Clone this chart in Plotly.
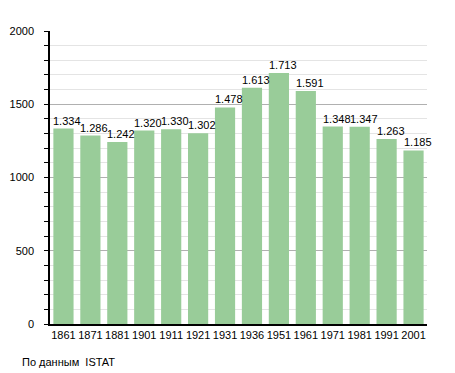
import plotly.graph_objects as go

years = ["1861", "1871", "1881", "1901", "1911", "1921", "1931", "1936", "1951", "1961", "1971", "1981", "1991", "2001"]
population = [1334, 1286, 1242, 1320, 1330, 1302, 1478, 1613, 1713, 1591, 1348, 1347, 1263, 1185]
labels = ["1.334", "1.286", "1.242", "1.320", "1.330", "1.302", "1.478", "1.613", "1.713", "1.591", "1.348", "1.347", "1.263", "1.185"]
source_text = "По данным  ISTAT"

font = "Liberation Sans, Arial, sans-serif"

fig = go.Figure()
fig.add_trace(go.Bar(x=list(range(len(years))), y=population,
                     marker=dict(color="#99cc99", line=dict(width=0)),
                     width=0.75, hoverinfo="skip"))

annotations = []
for i, (v, t) in enumerate(zip(population, labels)):
    annotations.append(dict(x=i, y=v, xref="x", yref="y", text=t, showarrow=False,
                            xanchor="center", yanchor="bottom", xshift=4, yshift=0,
                            font=dict(family=font, size=11, color="black")))
annotations.append(dict(xref="paper", yref="paper", x=(20 - 50) / 377, y=(324 - 362) / 293,
                        text=source_text, showarrow=False, xanchor="left", yanchor="middle",
                        font=dict(family=font, size=11, color="black")))

# page body has an 8px default margin, so the figure is offset by 8px
fig.update_layout(
    width=447, height=365,
    margin=dict(l=42, r=28, t=23, b=49, autoexpand=False),
    paper_bgcolor="white", plot_bgcolor="white",
    showlegend=False,
    annotations=annotations,
    xaxis=dict(tickvals=list(range(len(years))), ticktext=years, automargin=False,
               showline=True, linecolor="black", linewidth=1.5,
               ticks="", tickfont=dict(family=font, size=11, color="black"),
               showgrid=False, zeroline=False, range=[-0.5, 13.5]),
    yaxis=dict(range=[0, 2000], tickvals=[0, 500, 1000, 1500, 2000], showline=True, automargin=False,
               linecolor="black", linewidth=1.5, ticks="", ticklabelstandoff=12,
               tickfont=dict(family=font, size=11, color="black"),
               gridcolor="#b0b0b0", gridwidth=1, zeroline=False,
               minor=dict(dtick=100, showgrid=True, gridcolor="#e4e4e4", gridwidth=1,
                          ticks="outside", ticklen=4, tickcolor="black")),
)

fig.write_html("out.html")
